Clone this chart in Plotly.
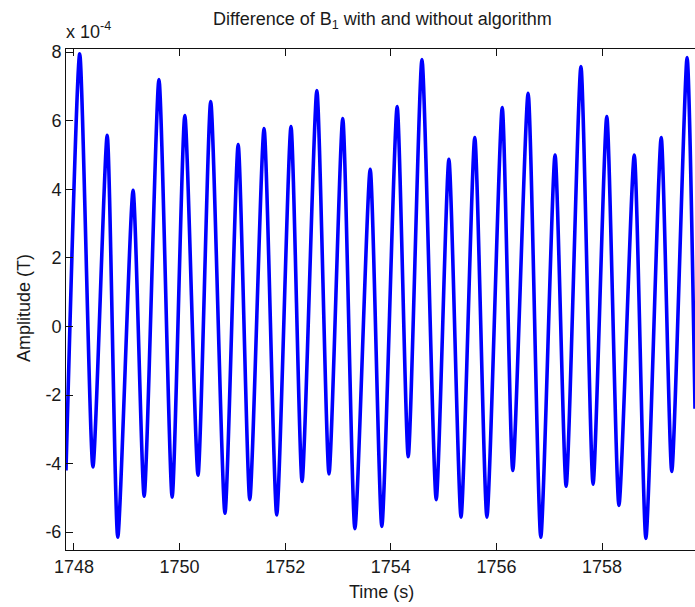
import plotly.graph_objects as go

# Extremes of the B1 difference signal (units of 1e-4 T), alternating trough / peak
peak_times = [1748.11, 1748.63, 1749.12, 1749.61, 1750.10, 1750.59, 1751.11, 1751.60,
              1752.11, 1752.60, 1753.09, 1753.61, 1754.12, 1754.59, 1755.10, 1755.59,
              1756.11, 1756.60, 1757.11, 1757.60, 1758.09, 1758.61, 1759.12, 1759.61]
peak_values = [7.95, 5.57, 3.97, 7.20, 6.15, 6.56, 5.30, 5.77,
               5.83, 6.88, 6.06, 4.58, 6.41, 7.78, 4.87, 5.51,
               6.38, 6.80, 5.00, 7.58, 6.12, 5.00, 5.51, 7.84]
trough_times = [1747.85, 1748.36, 1748.83, 1749.33, 1749.86, 1750.35, 1750.86, 1751.33,
                1751.84, 1752.32, 1752.83, 1753.32, 1753.83, 1754.33, 1754.86, 1755.33,
                1755.82, 1756.31, 1756.84, 1757.32, 1757.83, 1758.32, 1758.83, 1759.32]
trough_values = [-4.20, -4.10, -6.15, -4.95, -4.98, -4.34, -5.45, -5.05,
                 -5.50, -4.52, -4.30, -5.90, -5.83, -3.80, -5.05, -5.56,
                 -5.56, -4.20, -6.15, -4.66, -4.60, -5.22, -6.18, -4.23]
end_time = 1759.76
end_value = -2.40

x_ticks = [1748, 1750, 1752, 1754, 1756, 1758]
x_tick_labels = ["1748", "1750", "1752", "1754", "1756", "1758"]
y_ticks = [-6, -4, -2, 0, 2, 4, 6, 8]
y_tick_labels = ["-6", "-4", "-2", "0", "2", "4", "6", "8"]

# Interleave troughs and peaks into one trace
t = []
v = []
for tt, tv, pt, pv in zip(trough_times, trough_values, peak_times, peak_values):
    t += [tt, pt]
    v += [tv, pv]
t.append(end_time)
v.append(end_value)

W, H = 695, 607
ML, MR, MT, MB = 66, 0, 49, 57
PW, PH = W - ML - MR, H - MT - MB
FONT = "Liberation Sans, Arial, sans-serif"
TXT = "#1a1a1a"


def px(xp):
    return (xp - ML) / PW


def py(yp):
    return (H - MB - yp) / PH


fig = go.Figure()
fig.add_trace(go.Scatter(x=t, y=v, mode="lines",
                         line=dict(color="#0000ff", width=3.6, shape="spline", smoothing=0.6),
                         hoverinfo="skip", showlegend=False))

axis_common = dict(showgrid=False, zeroline=False, showline=True,
                   linecolor="#111111", linewidth=1, ticks="inside",
                   ticklen=7, tickwidth=1, tickcolor="#111111",
                   tickfont=dict(family=FONT, size=18, color=TXT))

fig.update_xaxes(range=[1747.85, 1759.76], tickvals=x_ticks, ticktext=x_tick_labels,
                 mirror="ticks", **axis_common)
fig.update_yaxes(range=[-6.52, 8.09], tickvals=y_ticks, ticktext=y_tick_labels,
                 mirror=False, **axis_common)

annotations = [
    dict(text="Difference of B<sub>1</sub> with and without algorithm",
         x=px(383), y=py(20), xanchor="center", yanchor="middle",
         font=dict(family=FONT, size=18, color=TXT)),
    dict(text="x 10<sup>-4</sup>", x=px(64), y=py(30), xanchor="left", yanchor="middle",
         font=dict(family=FONT, size=18, color=TXT)),
    dict(text="Time (s)", x=px(382), y=py(592), xanchor="center", yanchor="middle",
         font=dict(family=FONT, size=18, color=TXT)),
    dict(text="Amplitude (T)", x=px(24), y=py(308), xanchor="center", yanchor="middle",
         textangle=-90, font=dict(family=FONT, size=18, color=TXT)),
]
for a in annotations:
    a.update(xref="paper", yref="paper", showarrow=False)

fig.update_layout(width=W, height=H, margin=dict(l=ML, r=MR, t=MT, b=MB),
                  paper_bgcolor="white", plot_bgcolor="white",
                  annotations=annotations)

fig.write_html("out.html", config={"displayModeBar": False})
